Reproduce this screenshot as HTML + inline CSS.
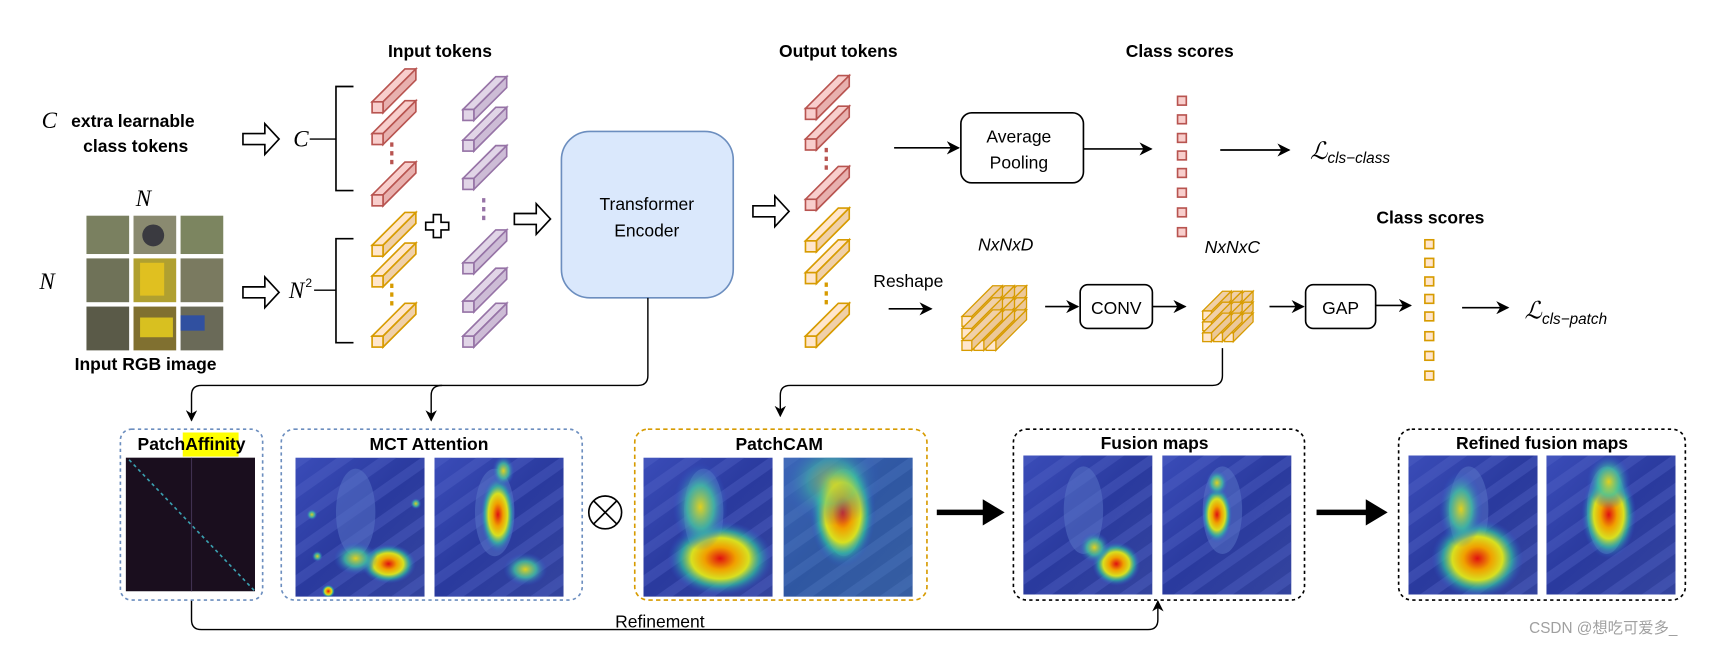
<!DOCTYPE html>
<html><head><meta charset="utf-8"><style>
html,body{margin:0;padding:0;background:#fff;}
svg{display:block;}
text{font-family:"Liberation Sans",sans-serif;}
.b{font-weight:bold;font-size:16px;}
.r{font-size:16px;}
.m{font-family:"Liberation Serif",serif;font-style:italic;}
</style></head><body>
<svg width="1716" height="646" viewBox="0 0 1568 590" preserveAspectRatio="none" xmlns="http://www.w3.org/2000/svg">
<defs>
<marker id="ar" viewBox="0 0 10 10" refX="9" refY="5" markerWidth="8" markerHeight="8" orient="auto"><path d="M0,0 L10,5 L0,10 L3,5 z" fill="#000"/></marker>
<g id="tokR"><polygon points="0,-10 30,-40 40,-40 10,-10" fill="#f8cecc" stroke="#b85450" stroke-width="1.5"/><polygon points="10,-10 40,-40 40,-30 10,0" fill="#e8b0ae" stroke="#b85450" stroke-width="1.5"/><rect x="0" y="-10" width="10" height="10" fill="#f8cecc" stroke="#b85450" stroke-width="1.5"/></g>
<g id="tokY"><polygon points="0,-10 30,-40 40,-40 10,-10" fill="#ffe6cc" stroke="#d79b00" stroke-width="1.5"/><polygon points="10,-10 40,-40 40,-30 10,0" fill="#f0d0a8" stroke="#d79b00" stroke-width="1.5"/><rect x="0" y="-10" width="10" height="10" fill="#ffe6cc" stroke="#d79b00" stroke-width="1.5"/></g>
<g id="tokP"><polygon points="0,-10 30,-40 40,-40 10,-10" fill="#e1d5e7" stroke="#9673a6" stroke-width="1.5"/><polygon points="10,-10 40,-40 40,-30 10,0" fill="#cdbcd6" stroke="#9673a6" stroke-width="1.5"/><rect x="0" y="-10" width="10" height="10" fill="#e1d5e7" stroke="#9673a6" stroke-width="1.5"/></g>
<g id="hol"><path d="M0,-5 L20,-5 L20,-14 L33,0 L20,14 L20,5 L0,5 z" fill="#fff" stroke="#000" stroke-width="1.5"/></g>
<g id="bar"><polygon points="0,-9 28,-37 37,-37 9,-9" fill="#f0d0a8" stroke="#d79b00" stroke-width="1.2"/><polygon points="9,-9 37,-37 37,-28 9,0" fill="#ecc898" stroke="#d79b00" stroke-width="1.2"/><rect x="0" y="-9" width="9" height="9" fill="#ffe6cc" stroke="#d79b00" stroke-width="1.2"/></g>
<g id="sbar"><polygon points="0,-8 18,-26 26,-26 8,-8" fill="#f0d0a8" stroke="#d79b00" stroke-width="1.2"/><polygon points="8,-8 26,-26 26,-18 8,0" fill="#ecc898" stroke="#d79b00" stroke-width="1.2"/><rect x="0" y="-8" width="8" height="8" fill="#ffe6cc" stroke="#d79b00" stroke-width="1.2"/></g>
<radialGradient id="heat"><stop offset="0" stop-color="#e01010"/><stop offset="0.3" stop-color="#f0a000"/><stop offset="0.55" stop-color="#d8e020"/><stop offset="0.75" stop-color="#30c0a0" stop-opacity="0.7"/><stop offset="1" stop-color="#3050d0" stop-opacity="0"/></radialGradient>
<radialGradient id="heatw"><stop offset="0" stop-color="#e0d020"/><stop offset="0.5" stop-color="#40c0a0" stop-opacity="0.8"/><stop offset="1" stop-color="#3050d0" stop-opacity="0"/></radialGradient>
<linearGradient id="bg" x1="0" y1="0" x2="1" y2="1"><stop offset="0" stop-color="#3a4cb8"/><stop offset="0.5" stop-color="#2a3a9e"/><stop offset="1" stop-color="#34449e"/></linearGradient>
<pattern id="str" width="22" height="22" patternUnits="userSpaceOnUse" patternTransform="rotate(-35)"><rect width="22" height="9" fill="#5566c8" opacity="0.35"/></pattern>
<g id="img"><rect width="118" height="127" fill="url(#bg)"/><rect width="118" height="127" fill="url(#str)"/><ellipse cx="55" cy="50" rx="18" ry="40" fill="#5a76c8" opacity="0.5"/></g>
</defs>

<text class="b" x="402" y="52" text-anchor="middle">Input tokens</text>
<text class="b" x="766" y="52" text-anchor="middle">Output tokens</text>
<text class="b" x="1078" y="52" text-anchor="middle">Class scores</text>
<text class="b" x="1307" y="204" text-anchor="middle">Class scores</text>

<text class="m" x="38" y="117" font-size="21">C</text>
<text class="b" x="65" y="116">extra learnable</text>
<text class="b" x="76" y="139">class tokens</text>
<text class="m" x="124" y="188" font-size="21">N</text>
<text class="m" x="36" y="264" font-size="21">N</text>
<text class="b" x="133" y="338" text-anchor="middle">Input RGB image</text>
<g>
<rect x="79" y="197" width="39" height="35" fill="#7a8060"/><rect x="122" y="197" width="39" height="35" fill="#8a8a70"/><rect x="165" y="197" width="39" height="35" fill="#7c8560"/>
<rect x="79" y="236" width="39" height="40" fill="#6f7258"/><rect x="122" y="236" width="39" height="40" fill="#b0a030"/><rect x="165" y="236" width="39" height="40" fill="#7a7a60"/>
<rect x="79" y="280" width="39" height="40" fill="#5a5a48"/><rect x="122" y="280" width="39" height="40" fill="#807030"/><rect x="165" y="280" width="39" height="40" fill="#6a6a58"/>
<circle cx="140" cy="215" r="10" fill="#3a3a40"/><rect x="128" y="240" width="22" height="30" fill="#e0c020"/><rect x="128" y="290" width="30" height="18" fill="#d8c020"/><rect x="165" y="288" width="22" height="14" fill="#3050a0"/>
</g>

<use href="#hol" x="222" y="127"/>
<use href="#hol" x="222" y="267"/>
<use href="#hol" x="470" y="200"/>
<use href="#hol" x="688" y="193"/>

<text class="m" x="268" y="134" font-size="21">C</text>
<line x1="283" y1="127" x2="307" y2="127" stroke="#000" stroke-width="1.3"/>
<path d="M323,79 H307 V174 H323" fill="none" stroke="#000" stroke-width="1.5"/>
<text class="m" x="264" y="272" font-size="21">N</text><text x="279" y="262" font-size="11" font-family="Liberation Serif,serif">2</text>
<line x1="287" y1="265" x2="307" y2="265" stroke="#000" stroke-width="1.3"/>
<path d="M323,218 H307 V313 H323" fill="none" stroke="#000" stroke-width="1.5"/>

<use href="#tokR" x="340" y="103"/><use href="#tokR" x="340" y="132"/><use href="#tokR" x="340" y="188"/>
<line x1="358" y1="130" x2="358" y2="154" stroke="#b85450" stroke-width="3" stroke-dasharray="4,4"/>
<use href="#tokY" x="340" y="234"/><use href="#tokY" x="340" y="262"/><use href="#tokY" x="340" y="317"/>
<line x1="358" y1="259" x2="358" y2="283" stroke="#d79b00" stroke-width="3" stroke-dasharray="4,4"/>
<use href="#tokP" x="423" y="110"/><use href="#tokP" x="423" y="138"/><use href="#tokP" x="423" y="173"/>
<line x1="442" y1="181" x2="442" y2="204" stroke="#9673a6" stroke-width="3" stroke-dasharray="4,4"/>
<use href="#tokP" x="423" y="250"/><use href="#tokP" x="423" y="285"/><use href="#tokP" x="423" y="317"/>
<path d="M396,196 h7 v7 h7 v7 h-7 v7 h-7 v-7 h-7 v-7 h7 z" fill="#fff" stroke="#000" stroke-width="1.5"/>

<rect x="513" y="120" width="157" height="152" rx="26" fill="#dae8fc" stroke="#6c8ebf" stroke-width="1.5"/>
<text class="r" x="591" y="192" text-anchor="middle">Transformer</text>
<text class="r" x="591" y="216" text-anchor="middle">Encoder</text>

<use href="#tokR" x="736" y="109"/><use href="#tokR" x="736" y="137"/><use href="#tokR" x="736" y="192"/>
<line x1="755" y1="135" x2="755" y2="158" stroke="#b85450" stroke-width="3" stroke-dasharray="4,4"/>
<use href="#tokY" x="736" y="230"/><use href="#tokY" x="736" y="259"/><use href="#tokY" x="736" y="317"/>
<line x1="755" y1="258" x2="755" y2="281" stroke="#d79b00" stroke-width="3" stroke-dasharray="4,4"/>

<line x1="817" y1="135" x2="876" y2="135" stroke="#000" stroke-width="1.5" marker-end="url(#ar)"/>
<rect x="878" y="103" width="112" height="64" rx="10" fill="#fff" stroke="#000" stroke-width="1.5"/>
<text class="r" x="931" y="130" text-anchor="middle">Average</text>
<text class="r" x="931" y="154" text-anchor="middle">Pooling</text>
<line x1="990" y1="136" x2="1052" y2="136" stroke="#000" stroke-width="1.5" marker-end="url(#ar)"/>
<g fill="#f8cecc" stroke="#b85450" stroke-width="1.5">
<rect x="1076" y="88" width="8" height="8"/><rect x="1076" y="105" width="8" height="8"/><rect x="1076" y="122" width="8" height="8"/><rect x="1076" y="138" width="8" height="8"/><rect x="1076" y="154" width="8" height="8"/><rect x="1076" y="172" width="8" height="8"/><rect x="1076" y="190" width="8" height="8"/><rect x="1076" y="208" width="8" height="8"/>
</g>
<line x1="1115" y1="137" x2="1178" y2="137" stroke="#000" stroke-width="1.5" marker-end="url(#ar)"/>
<text x="1197" y="145" font-family="Liberation Serif,serif" font-style="italic" font-size="22">ℒ</text><text x="1213" y="149" font-family="Liberation Serif,serif" font-style="italic" font-size="14">cls−class</text>

<text x="919" y="229" text-anchor="middle" font-size="16" font-style="italic">NxNxD</text>
<text x="1126" y="231" text-anchor="middle" font-size="16" font-style="italic">NxNxC</text>
<text class="r" x="830" y="262" text-anchor="middle">Reshape</text>
<line x1="812" y1="282" x2="851" y2="282" stroke="#000" stroke-width="1.5" marker-end="url(#ar)"/>
<!-- big cube: top row first, right to left -->
<use href="#bar" x="901" y="298"/><use href="#bar" x="890" y="298"/><use href="#bar" x="879" y="298"/>
<use href="#bar" x="901" y="309"/><use href="#bar" x="890" y="309"/><use href="#bar" x="879" y="309"/>
<use href="#bar" x="901" y="320"/><use href="#bar" x="890" y="320"/><use href="#bar" x="879" y="320"/>
<line x1="955" y1="280" x2="985" y2="280" stroke="#000" stroke-width="1.5" marker-end="url(#ar)"/>
<rect x="987" y="260" width="66" height="40" rx="7" fill="#fff" stroke="#000" stroke-width="1.5"/>
<text class="r" x="1020" y="287" text-anchor="middle">CONV</text>
<line x1="1053" y1="280" x2="1083" y2="280" stroke="#000" stroke-width="1.5" marker-end="url(#ar)"/>
<use href="#sbar" x="1119" y="292"/><use href="#sbar" x="1109" y="292"/><use href="#sbar" x="1099" y="292"/>
<use href="#sbar" x="1119" y="302"/><use href="#sbar" x="1109" y="302"/><use href="#sbar" x="1099" y="302"/>
<use href="#sbar" x="1119" y="312"/><use href="#sbar" x="1109" y="312"/><use href="#sbar" x="1099" y="312"/>
<line x1="1160" y1="280" x2="1191" y2="280" stroke="#000" stroke-width="1.5" marker-end="url(#ar)"/>
<rect x="1193" y="260" width="64" height="40" rx="7" fill="#fff" stroke="#000" stroke-width="1.5"/>
<text class="r" x="1225" y="287" text-anchor="middle">GAP</text>
<line x1="1257" y1="279" x2="1289" y2="279" stroke="#000" stroke-width="1.5" marker-end="url(#ar)"/>
<g fill="#ffe6cc" stroke="#d79b00" stroke-width="1.5">
<rect x="1302" y="219" width="8" height="8"/><rect x="1302" y="236" width="8" height="8"/><rect x="1302" y="253" width="8" height="8"/><rect x="1302" y="269" width="8" height="8"/><rect x="1302" y="285" width="8" height="8"/><rect x="1302" y="303" width="8" height="8"/><rect x="1302" y="321" width="8" height="8"/><rect x="1302" y="339" width="8" height="8"/>
</g>
<line x1="1336" y1="281" x2="1378" y2="281" stroke="#000" stroke-width="1.5" marker-end="url(#ar)"/>
<text x="1393" y="291" font-family="Liberation Serif,serif" font-style="italic" font-size="22">ℒ</text><text x="1409" y="296" font-family="Liberation Serif,serif" font-style="italic" font-size="14">cls−patch</text>

<path d="M592,272 V343 Q592,352 583,352 H184 Q175,352 175,361 V384" fill="none" stroke="#000" stroke-width="1.3" marker-end="url(#ar)"/>
<path d="M404,352 Q394,352 394,361 V384" fill="none" stroke="#000" stroke-width="1.3" marker-end="url(#ar)"/>
<path d="M1117,318 V343 Q1117,352 1108,352 H722 Q713,352 713,361 V380" fill="none" stroke="#000" stroke-width="1.3" marker-end="url(#ar)"/>
<path d="M175,548 V566 Q175,575 184,575 H1049 Q1058,575 1058,566 V549" fill="none" stroke="#000" stroke-width="1.3" marker-end="url(#ar)"/>
<text class="r" x="603" y="573" text-anchor="middle">Refinement</text>

<rect x="110" y="392" width="130" height="156" rx="10" fill="none" stroke="#6c8ebf" stroke-width="1.5" stroke-dasharray="3,3"/>
<rect x="167" y="395" width="51" height="22" fill="#ffff00"/>
<text class="b" x="175" y="411" text-anchor="middle">PatchAffinity</text>
<rect x="115" y="418" width="118" height="122" fill="#1a0e1e"/>
<line x1="118" y1="420" x2="233" y2="540" stroke="#3aa0b0" stroke-width="1.5" stroke-dasharray="3,3"/>
<line x1="175" y1="418" x2="175" y2="540" stroke="#403050" stroke-width="1"/>

<rect x="257" y="392" width="275" height="156" rx="12" fill="none" stroke="#6c8ebf" stroke-width="1.5" stroke-dasharray="3,3"/>
<text class="b" x="392" y="411" text-anchor="middle">MCT Attention</text>
<svg x="270" y="418" width="118" height="127" overflow="hidden"><use href="#img"/>
<ellipse cx="85" cy="97" rx="25" ry="18" fill="url(#heat)"/><ellipse cx="55" cy="92" rx="20" ry="15" fill="url(#heatw)"/>
<circle cx="30" cy="122" r="6" fill="url(#heat)"/><circle cx="15" cy="52" r="5" fill="url(#heatw)"/><circle cx="110" cy="42" r="5" fill="url(#heatw)"/><circle cx="20" cy="90" r="5" fill="url(#heatw)"/></svg>
<svg x="397" y="418" width="118" height="127" overflow="hidden"><use href="#img"/>
<ellipse cx="58" cy="52" rx="16" ry="35" fill="url(#heat)"/><ellipse cx="63" cy="12" rx="10" ry="14" fill="url(#heatw)"/><ellipse cx="83" cy="102" rx="20" ry="15" fill="url(#heatw)"/></svg>
<circle cx="553" cy="468" r="15" fill="#fff" stroke="#000" stroke-width="1.5"/>
<path d="M542,457 L564,479 M564,457 L542,479" stroke="#000" stroke-width="1.5"/>

<rect x="580" y="392" width="267" height="156" rx="12" fill="none" stroke="#d79b00" stroke-width="1.5" stroke-dasharray="4,3"/>
<text class="b" x="712" y="411" text-anchor="middle">PatchCAM</text>
<svg x="588" y="418" width="118" height="127" overflow="hidden"><use href="#img"/>
<ellipse cx="70" cy="92" rx="48" ry="34" fill="url(#heat)"/><ellipse cx="52" cy="45" rx="25" ry="40" fill="url(#heatw)"/></svg>
<svg x="716" y="418" width="118" height="127" overflow="hidden"><use href="#img"/>
<rect width="118" height="127" fill="#40b0b0" opacity="0.25"/>
<ellipse cx="54" cy="50" rx="30" ry="50" fill="url(#heat)"/><ellipse cx="44" cy="22" rx="45" ry="40" fill="url(#heatw)" opacity="0.6"/></svg>
<path d="M856,468 H900" stroke="#000" stroke-width="5"/><path d="M898,456 L918,468 L898,480 z" fill="#000"/>

<rect x="926" y="392" width="266" height="156" rx="12" fill="none" stroke="#000" stroke-width="1.5" stroke-dasharray="3,3"/>
<text class="b" x="1055" y="410" text-anchor="middle">Fusion maps</text>
<svg x="935" y="416" width="118" height="127" overflow="hidden"><use href="#img"/>
<ellipse cx="85" cy="99" rx="22" ry="20" fill="url(#heat)"/><ellipse cx="65" cy="84" rx="14" ry="14" fill="url(#heatw)"/></svg>
<svg x="1062" y="416" width="118" height="127" overflow="hidden"><use href="#img"/>
<ellipse cx="50" cy="54" rx="14" ry="26" fill="url(#heat)"/><ellipse cx="50" cy="25" rx="10" ry="12" fill="url(#heatw)"/></svg>
<path d="M1203,468 H1250" stroke="#000" stroke-width="5"/><path d="M1248,456 L1268,468 L1248,480 z" fill="#000"/>

<rect x="1278" y="392" width="262" height="156" rx="12" fill="none" stroke="#000" stroke-width="1.5" stroke-dasharray="3,3"/>
<text class="b" x="1409" y="410" text-anchor="middle">Refined fusion maps</text>
<svg x="1287" y="416" width="118" height="127" overflow="hidden"><use href="#img"/>
<ellipse cx="63" cy="94" rx="42" ry="36" fill="url(#heat)"/><ellipse cx="48" cy="49" rx="20" ry="35" fill="url(#heatw)"/></svg>
<svg x="1413" y="416" width="118" height="127" overflow="hidden"><use href="#img"/>
<ellipse cx="57" cy="54" rx="25" ry="40" fill="url(#heat)"/><ellipse cx="57" cy="24" rx="20" ry="25" fill="url(#heatw)"/></svg>

<text x="1465" y="578" text-anchor="middle" font-size="14" fill="#a0a0a0" style="font-family:'Liberation Sans','Noto Sans CJK SC',sans-serif">CSDN @想吃可爱多_</text>
</svg>
</body></html>
